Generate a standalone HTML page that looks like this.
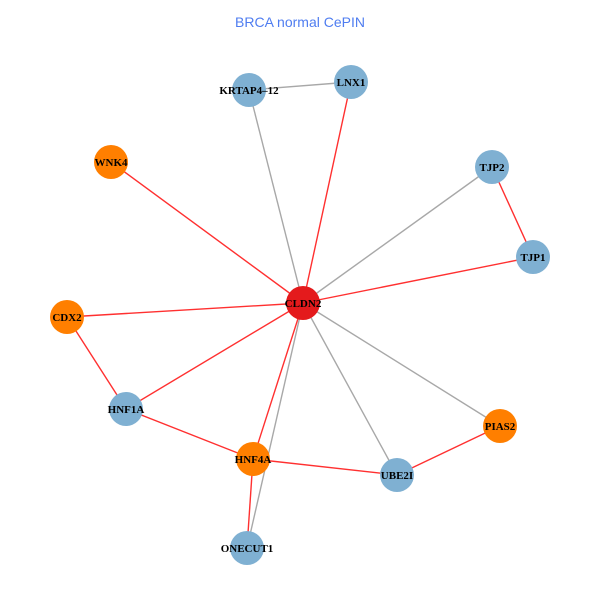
<!DOCTYPE html>
<html><head><style>body{margin:0;background:#fff}svg{display:block}</style></head><body>
<svg width="600" height="600" xmlns="http://www.w3.org/2000/svg">
<rect width="600" height="600" fill="#fff"/>
<text x="300" y="27" text-anchor="middle" font-family="Liberation Sans, sans-serif" font-size="14" fill="#4f7df0">BRCA normal CePIN</text>
<g stroke-width="1.4">
<line x1="249" y1="90" x2="351" y2="82" stroke="#a8a8a8"/>
<line x1="249" y1="90" x2="303" y2="303" stroke="#a8a8a8"/>
<line x1="351" y1="82" x2="303" y2="303" stroke="#ff3030"/>
<line x1="111" y1="162" x2="303" y2="303" stroke="#ff3030"/>
<line x1="492" y1="167" x2="303" y2="303" stroke="#a8a8a8"/>
<line x1="492" y1="167" x2="533" y2="257" stroke="#ff3030"/>
<line x1="533" y1="257" x2="303" y2="303" stroke="#ff3030"/>
<line x1="67" y1="317" x2="303" y2="303" stroke="#ff3030"/>
<line x1="67" y1="317" x2="126" y2="409" stroke="#ff3030"/>
<line x1="126" y1="409" x2="303" y2="303" stroke="#ff3030"/>
<line x1="126" y1="409" x2="253" y2="459" stroke="#ff3030"/>
<line x1="253" y1="459" x2="303" y2="303" stroke="#ff3030"/>
<line x1="253" y1="459" x2="397" y2="475" stroke="#ff3030"/>
<line x1="253" y1="459" x2="247" y2="548" stroke="#ff3030"/>
<line x1="247" y1="548" x2="303" y2="303" stroke="#a8a8a8"/>
<line x1="397" y1="475" x2="303" y2="303" stroke="#a8a8a8"/>
<line x1="500" y1="426" x2="303" y2="303" stroke="#a8a8a8"/>
<line x1="500" y1="426" x2="397" y2="475" stroke="#ff3030"/>
</g>
<g>
<circle cx="249" cy="90" r="17" fill="#7fb0d2"/>
<circle cx="351" cy="82" r="17" fill="#7fb0d2"/>
<circle cx="111" cy="162" r="17" fill="#ff7f00"/>
<circle cx="492" cy="167" r="17" fill="#7fb0d2"/>
<circle cx="533" cy="257" r="17" fill="#7fb0d2"/>
<circle cx="303" cy="303" r="17" fill="#e41a1c"/>
<circle cx="67" cy="317" r="17" fill="#ff7f00"/>
<circle cx="126" cy="409" r="17" fill="#7fb0d2"/>
<circle cx="500" cy="426" r="17" fill="#ff7f00"/>
<circle cx="253" cy="459" r="17" fill="#ff7f00"/>
<circle cx="397" cy="475" r="17" fill="#7fb0d2"/>
<circle cx="247" cy="548" r="17" fill="#7fb0d2"/>
</g>
<g font-family="Liberation Serif, serif" font-weight="bold" font-size="11" text-anchor="middle" fill="#000">
<text x="249" y="94">KRTAP4–12</text>
<text x="351" y="86">LNX1</text>
<text x="111" y="166">WNK4</text>
<text x="492" y="171">TJP2</text>
<text x="533" y="261">TJP1</text>
<text x="303" y="307">CLDN2</text>
<text x="67" y="321">CDX2</text>
<text x="126" y="413">HNF1A</text>
<text x="500" y="430">PIAS2</text>
<text x="253" y="463">HNF4A</text>
<text x="397" y="479">UBE2I</text>
<text x="247" y="552">ONECUT1</text>
</g>
</svg>
</body></html>
